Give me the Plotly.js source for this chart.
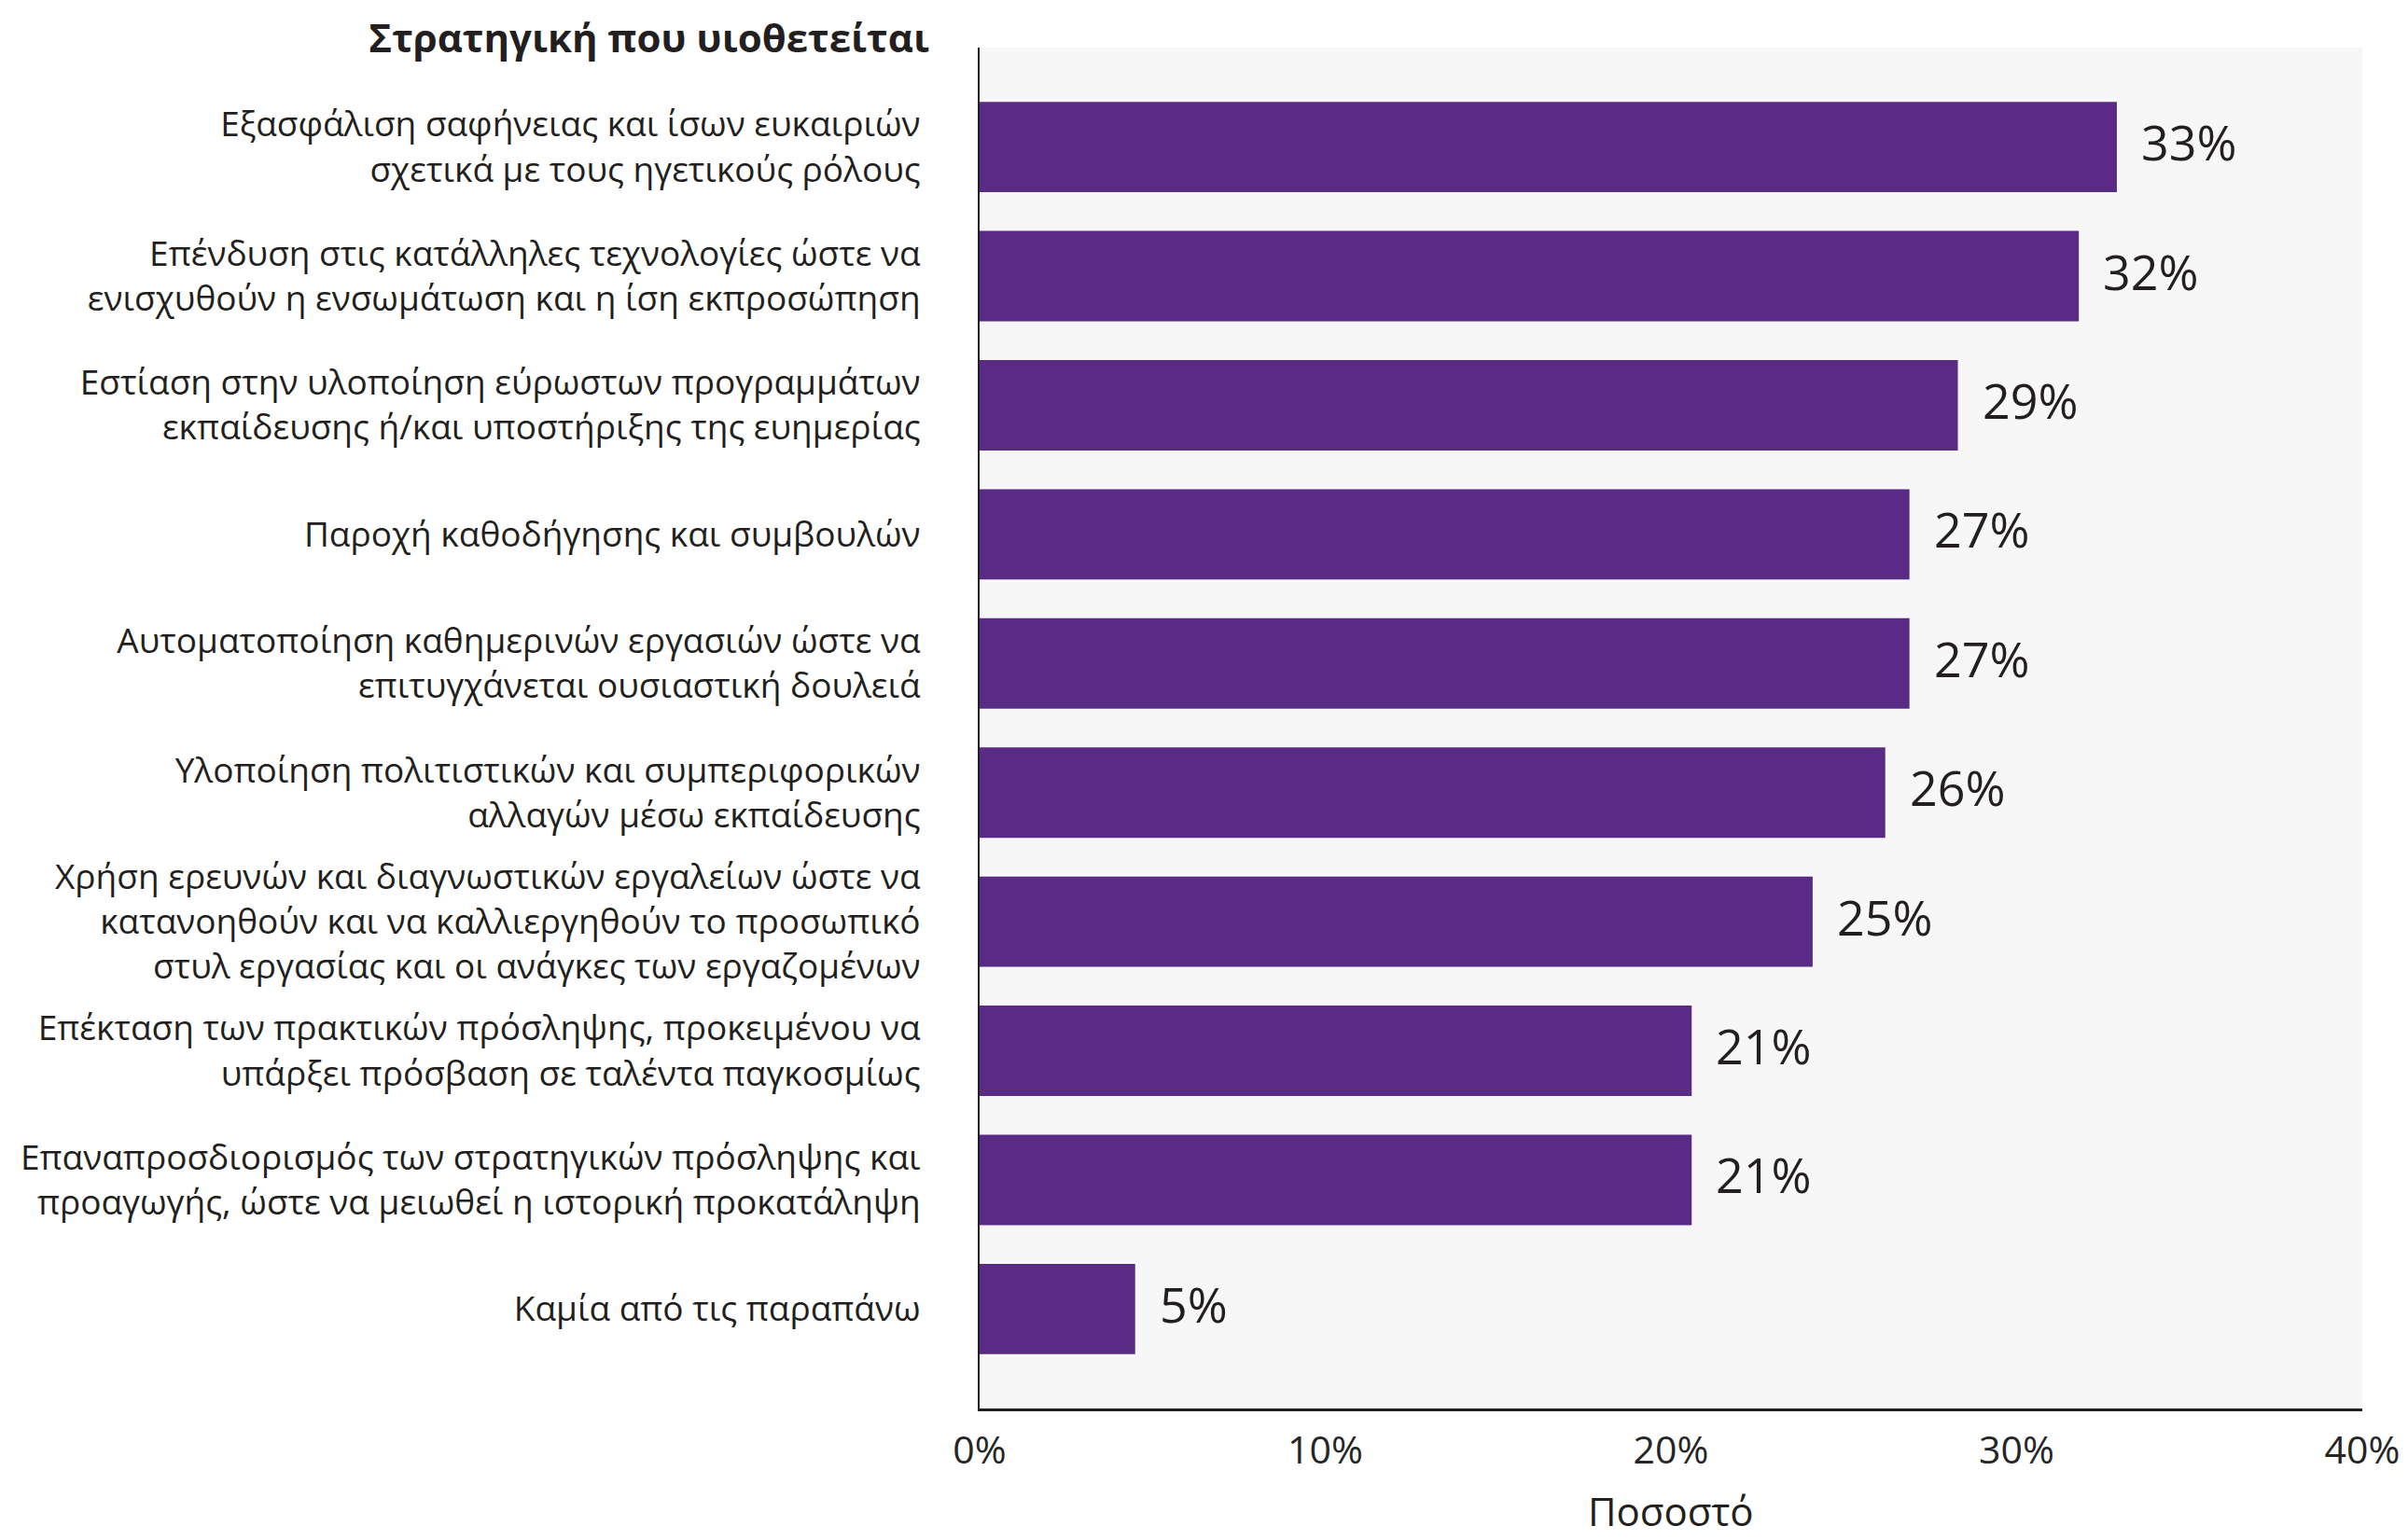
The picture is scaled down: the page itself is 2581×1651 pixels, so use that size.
<!DOCTYPE html>
<html>
<head>
<meta charset="utf-8">
<script src="https://cdn.plot.ly/plotly-3.0.1.min.js"></script>
<style>
  html, body { margin: 0; padding: 0; background: #ffffff; }
  #chart { width: 2581px; height: 1651px; }
</style>
</head>
<body>
<div id="chart"></div>
<script>
const categories = [
  "Εξασφάλιση σαφήνειας και ίσων ευκαιριών<br>σχετικά με τους ηγετικούς ρόλους",
  "Επένδυση στις κατάλληλες τεχνολογίες ώστε να<br>ενισχυθούν η ενσωμάτωση και η ίση εκπροσώπηση",
  "Εστίαση στην υλοποίηση εύρωστων προγραμμάτων<br>εκπαίδευσης ή/και υποστήριξης της ευημερίας",
  "Παροχή καθοδήγησης και συμβουλών",
  "Αυτοματοποίηση καθημερινών εργασιών ώστε να<br>επιτυγχάνεται ουσιαστική δουλειά",
  "Υλοποίηση πολιτιστικών και συμπεριφορικών<br>αλλαγών μέσω εκπαίδευσης",
  "Χρήση ερευνών και διαγνωστικών εργαλείων ώστε να<br>κατανοηθούν και να καλλιεργηθούν το προσωπικό<br>στυλ εργασίας και οι ανάγκες των εργαζομένων",
  "Επέκταση των πρακτικών πρόσληψης, προκειμένου να<br>υπάρξει πρόσβαση σε ταλέντα παγκοσμίως",
  "Επαναπροσδιορισμός των στρατηγικών πρόσληψης και<br>προαγωγής, ώστε να μειωθεί η ιστορική προκατάληψη",
  "Καμία από τις παραπάνω"
];
// bar lengths (percent)
const values = [32.9, 31.8, 28.3, 26.9, 26.9, 26.2, 24.1, 20.6, 20.6, 4.5];
// value labels as printed on the picture
const valueLabels = ["33%", "32%", "29%", "27%", "27%", "26%", "25%", "21%", "21%", "5%"];
const xTickVals = [0, 10, 20, 30, 40];
const xTickText = ["0%", "10%", "20%", "30%", "40%"];
const chartTitle = "Στρατηγική που υιοθετείται";
const xTitle = "Ποσοστό";

const textColor = "#231f20";
const barColor = "#592b85";

const trace = {
  type: "bar",
  orientation: "h",
  x: values,
  y: categories,
  marker: { color: barColor, line: { width: 0 } },
  hoverinfo: "none"
};

const annotations = values.map((v, i) => ({
  x: v,
  y: categories[i],
  xref: "x",
  yref: "y",
  text: valueLabels[i],
  showarrow: false,
  xanchor: "left",
  yanchor: "middle",
  xshift: 24,
  yshift: 6,
  font: { family: "Open Sans, sans-serif", size: 52, color: textColor }
}));

// x-axis title, placed below the tick labels
annotations.push({
  x: 0.5,
  y: -0.075,
  xref: "paper",
  yref: "paper",
  text: xTitle,
  showarrow: false,
  xanchor: "center",
  yanchor: "middle",
  borderpad: 0,
  font: { family: "Open Sans, sans-serif", size: 42, color: textColor }
});

const layout = {
  width: 2581,
  height: 1651,
  paper_bgcolor: "#ffffff",
  plot_bgcolor: "#f7f7f7",
  margin: { l: 1050, r: 49, t: 51, b: 141, pad: 0 },
  showlegend: false,
  bargap: 0.3,
  title: {
    text: "<b>" + chartTitle + "</b>",
    xref: "container",
    yref: "container",
    x: 996 / 2581,
    xanchor: "right",
    y: 1 - 41 / 1651,
    yanchor: "middle",
    font: { family: "Open Sans, sans-serif", size: 42, color: textColor }
  },
  xaxis: {
    range: [0, 40],
    tickvals: xTickVals,
    ticktext: xTickText,
    showgrid: false,
    zeroline: false,
    showline: true,
    linecolor: textColor,
    linewidth: 3,
    ticks: "",
    ticklabelstandoff: 7,
    tickfont: { family: "Open Sans, sans-serif", size: 41, color: "#262626" },
    fixedrange: true
  },
  yaxis: {
    type: "category",
    categoryorder: "array",
    categoryarray: categories,
    range: [9.77, -0.77],
    showgrid: false,
    zeroline: false,
    showline: true,
    linecolor: textColor,
    linewidth: 2,
    ticks: "",
    ticklabelstandoff: 54,
    tickfont: { family: "Open Sans, sans-serif", size: 37, color: textColor },
    fixedrange: true
  },
  annotations: annotations
};

Plotly.newPlot("chart", [trace], layout, { displayModeBar: false, staticPlot: true });
</script>
</body>
</html>
